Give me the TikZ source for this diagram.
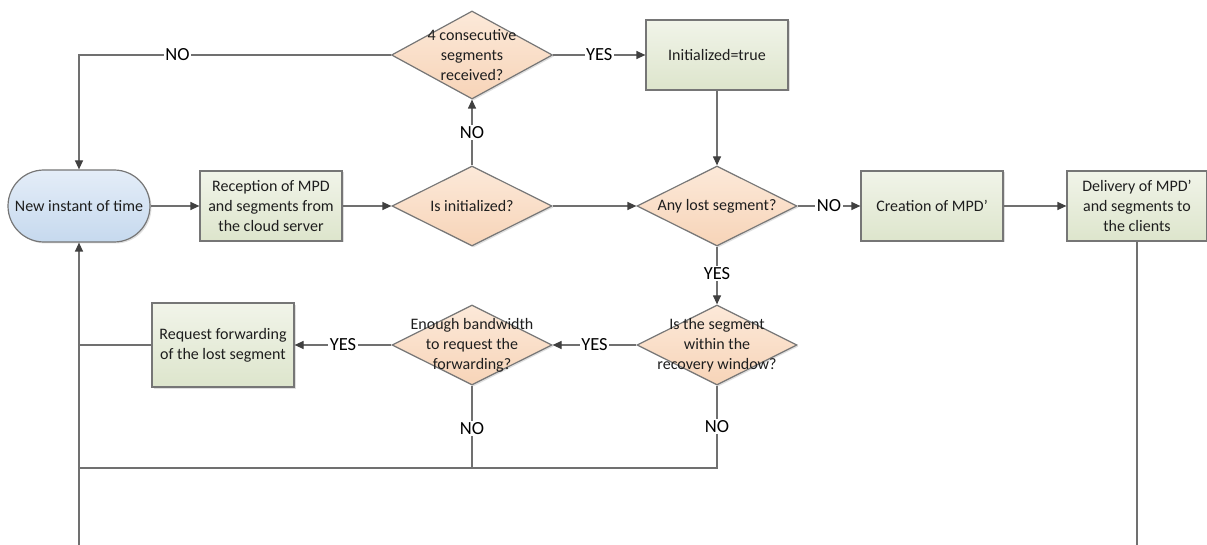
\documentclass[tikz,border=0pt]{standalone}
\usepackage{fontspec}
\setmainfont{Carlito}
\usetikzlibrary{shapes.geometric,arrows.meta,shadows,calc}
\definecolor{lineC}{RGB}{112,112,112}
\definecolor{borderC}{RGB}{118,118,118}
\definecolor{tipC}{RGB}{64,64,64}
\definecolor{txtC}{RGB}{30,30,30}
\definecolor{boxTop}{RGB}{241,244,233}
\definecolor{boxBot}{RGB}{221,229,204}
\definecolor{dTop}{RGB}{252,233,217}
\definecolor{dBot}{RGB}{247,212,184}
\definecolor{tTop}{RGB}{228,237,248}
\definecolor{tBot}{RGB}{198,217,238}
\tikzset{
  base/.style={draw=borderC, line width=1.2pt, text=txtC,
    drop shadow={shadow xshift=1.5pt, shadow yshift=-1.5pt, opacity=0.25}},
  procbox/.style={base, rectangle, minimum width=142pt, minimum height=70pt,
    top color=boxTop, bottom color=boxBot, align=center, inner sep=2pt,
    font=\fontsize{16}{20}\selectfont},
  decision/.style={base, diamond, minimum width=160pt, minimum height=80pt,
    inner sep=0pt, top color=dTop, bottom color=dBot},
  dtext/.style={align=center, inner sep=0pt, text=txtC, font=\fontsize{16}{20}\selectfont},
  term/.style={base, rectangle, rounded corners=36pt, minimum width=142pt,
    minimum height=72pt, top color=tTop, bottom color=tBot, align=center,
    font=\fontsize{16}{20}\selectfont},
  line/.style={draw=lineC, line width=1.2pt},
  conn/.style={line, -{Triangle[length=9pt,width=8pt,fill=tipC,color=tipC]}},
  lbl/.style={fill=white, inner sep=1.5pt, text=black, font=\fontsize{18.5}{20}\selectfont}
}
\begin{document}
\begin{tikzpicture}[x=1pt,y=-1pt]
\useasboundingbox (0,0) rectangle (1207,545);
% nodes
\node[term] (t) at (79,206) {New instant of time};
\node[procbox] (rec) at (271,206) {Reception of MPD\\and segments from\\the cloud server};
\node[decision] (d2) at (472,206) {};
\node[dtext] (d2t) at (d2) {Is initialized?};
\node[decision, minimum height=88pt, minimum width=161pt] (d1) at (472,55) {};
\node[dtext] (d1t) at (d1) {4 consecutive\\segments\\received?};
\node[procbox] (init) at (717,55) {Initialized=true};
\node[decision] (d3) at (717,206) {};
\node[dtext] (d3t) at (d3) {Any lost segment?};
\node[procbox] (cre) at (932,206) {Creation of MPD’};
\node[procbox, minimum width=140pt] (dl) at (1137,206) {Delivery of MPD’\\and segments to\\the clients};
\node[decision] (d4) at (717,345) {};
\node[dtext] (d4t) at (d4) {Is the segment\\within the\\recovery window?};
\node[decision] (d5) at (472,345) {};
\node[dtext] (d5t) at (d5) {Enough bandwidth\\to request the\\forwarding?};
\node[procbox, minimum height=84pt] (req) at (223,345) {Request forwarding\\of the lost segment};
% coordinates
\coordinate (b1) at (472,468);
\coordinate (b2) at (717,468);
\coordinate (bl) at (79,468);
\coordinate (rl) at (79,345);
\coordinate (bot) at (79,545);
\coordinate (br) at (1137,545);
% connectors
\draw[conn] (d1.west) -| node[lbl, pos=0.342] {NO} (t.north);
\draw[conn] (d1.east) -- node[lbl] {YES} (init.west);
\draw[conn] (d2.north) -- node[lbl] {NO} (d1.south);
\draw[conn] (t.east) -- (rec.west);
\draw[conn] (rec.east) -- (d2.west);
\draw[conn] (d2.east) -- (d3.west);
\draw[conn] (init.south) -- (d3.north);
\draw[conn] (d3.east) -- node[lbl] {NO} (cre.west);
\draw[conn] (cre.east) -- (dl.west);
\draw[conn] (d3.south) -- node[lbl, pos=0.46] {YES} (d4.north);
\draw[conn] (d4.west) -- node[lbl] {YES} (d5.east);
\draw[conn] (d5.west) -- node[lbl] {YES} (req.east);
\draw[line] (d4.south) -- node[lbl, pos=0.5] {NO} (b2) -- (bl);
\draw[line] (d5.south) -- node[lbl, pos=0.52] {NO} (b1);
\draw[line] (req.west) -- (rl);
\draw[conn] (bot) -- (t.south);
\draw[line] (dl.south) -- (br);
\end{tikzpicture}
\end{document}
